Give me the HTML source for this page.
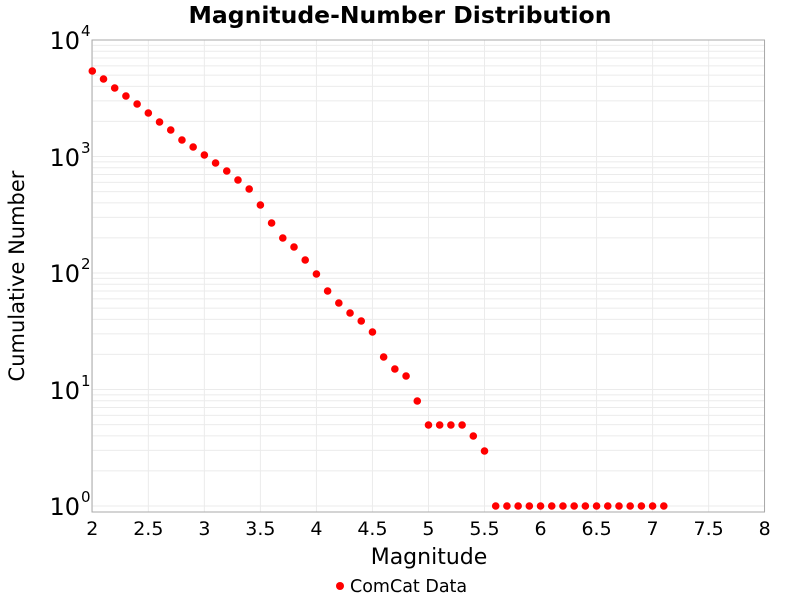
<!DOCTYPE html>
<html><head><meta charset="utf-8"><style>
body{margin:0;background:#fff;}
svg{display:block;font-family:"DejaVu Sans","Liberation Sans",sans-serif;}
</style></head><body>
<svg id="s" width="800" height="600" xmlns="http://www.w3.org/2000/svg">
<rect width="800" height="600" fill="#fff"/>
<g id="grid"></g>
<rect x="92" y="40" width="672.5" height="472" fill="none" stroke="#aaa" stroke-width="1"/>
<g id="dots" fill="#ff0000"></g>
<text x="400" y="23" text-anchor="middle" font-size="23.5" font-weight="bold">Magnitude-Number Distribution</text>
<g font-size="24" text-anchor="end">
<text x="80" y="49">10</text><text x="81" y="36" font-size="15" text-anchor="start">4</text>
<text x="80" y="166">10</text><text x="81" y="153" font-size="15" text-anchor="start">3</text>
<text x="80" y="282">10</text><text x="81" y="269" font-size="15" text-anchor="start">2</text>
<text x="80" y="399">10</text><text x="81" y="386" font-size="15" text-anchor="start">1</text>
<text x="80" y="515">10</text><text x="81" y="502" font-size="15" text-anchor="start">0</text>
</g>
<g id="xt" font-size="19" text-anchor="middle"></g>
<text x="429" y="564" text-anchor="middle" font-size="22">Magnitude</text>
<text transform="translate(24,276) rotate(-90)" text-anchor="middle" font-size="21">Cumulative Number</text>
<circle cx="340" cy="586" r="4" fill="#ff0000"/>
<text x="350" y="592" font-size="17.5">ComCat Data</text>
</svg>
<script>
var ns="http://www.w3.org/2000/svg";
function el(p,t,a){var e=document.createElementNS(ns,t);for(var k in a)e.setAttribute(k,a[k]);document.getElementById(p).appendChild(e);return e;}
var y0=506,dec=116.5;
for(var d=0;d<5;d++){for(var m=1;m<=9;m++){var y=y0-dec*(d+Math.log10(m));if(y<40||y>512)continue;el("grid","line",{x1:92,x2:764.5,y1:y,y2:y,stroke:"#ebebeb","stroke-width":1});}}
for(var i=0;i<=12;i++){var x=92.3+i*56.03;el("grid","line",{x1:x,x2:x,y1:40,y2:512,stroke:"#ebebeb","stroke-width":1});
var t=el("xt","text",{x:x,y:535});t.textContent=String(2+i*0.5);}
var ys=[71,79,88,96,104,113,122,130,140,147,155,163,171,180,189,205,223,238,247,260,274,291,303,313,321,332,357,369,376,401,425,425,425,425,436,451];
for(var j=0;j<ys.length;j++)el("dots","circle",{cx:92.3+j*11.206,cy:ys[j],r:3.8});
for(var k=0;k<16;k++)el("dots","circle",{cx:92.3+(36+k)*11.206,cy:506,r:3.8});
</script>
</body></html>
